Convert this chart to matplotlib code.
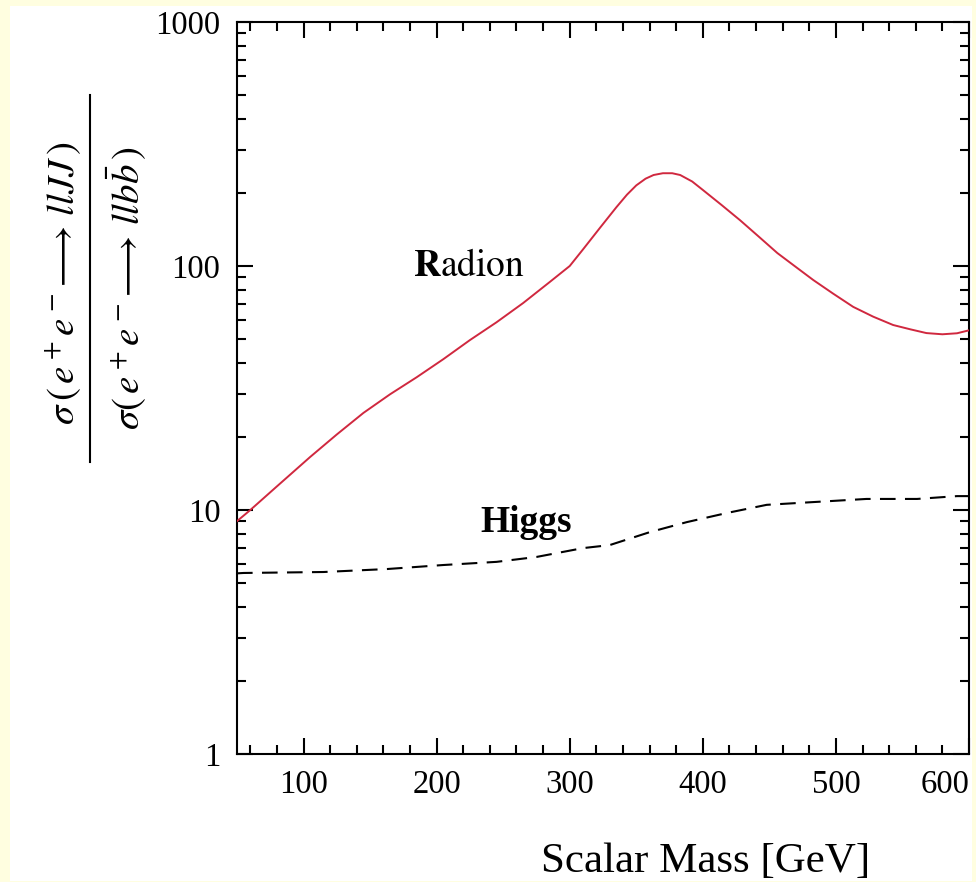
import matplotlib
matplotlib.use("Agg")
import matplotlib.pyplot as plt
from matplotlib.ticker import MultipleLocator, LogLocator, NullFormatter
from matplotlib.lines import Line2D
from matplotlib.patches import Rectangle

# ---------------- data ----------------
radion_mass = [50, 60, 80, 105, 125, 145, 165, 185, 205, 225, 245, 265, 285, 300,
               310, 323, 335, 343, 350, 357, 363, 370, 377, 383, 392, 400, 414, 428,
               442, 456, 470, 483, 498, 513, 528, 543, 556, 568, 580, 591, 600]
radion_ratio = [9.0, 10.0, 12.5, 16.5, 20.4, 25.0, 29.8, 35.0, 41.5, 49.7, 58.8,
                70.5, 86.0, 100.0, 117.0, 144.0, 174.0, 196.0, 214.0, 228.0, 236.0,
                240.0, 240.0, 236.0, 222.0, 205.0, 178.0, 154.0, 132.0, 113.0, 99.0,
                87.6, 77.0, 68.0, 62.0, 57.3, 55.0, 53.1, 52.5, 53.0, 54.5]

higgs_mass = [50, 55, 115, 163, 205, 245, 275, 310, 330, 360, 388, 418, 448, 486,
              523, 561, 591, 600]
higgs_ratio = [5.5, 5.52, 5.57, 5.73, 5.95, 6.13, 6.42, 6.98, 7.18, 8.11, 8.92,
               9.72, 10.5, 10.8, 11.1, 11.1, 11.4, 11.4]

x_ticks = [100, 200, 300, 400, 500, 600]
x_ticklabels = ["100", "200", "300", "400", "500", "600"]
y_ticks = [1, 10, 100, 1000]
y_ticklabels = ["1", "10", "100", "1000"]

# ---------------- style ----------------
plt.rcParams["font.family"] = ["Liberation Serif", "DejaVu Serif"]
plt.rcParams["mathtext.fontset"] = "stix"

W, H = 976, 882
fig = plt.figure(figsize=(W / 100, H / 100), dpi=100, facecolor="#fffee0")
fig.patches.append(Rectangle((10 / W, 1 - 881 / H), (972 - 10) / W, (881 - 6) / H,
                             transform=fig.transFigure, facecolor="white",
                             edgecolor="none", zorder=-10))

ax = fig.add_axes([237 / W, 1 - 754 / H, (969 - 237) / W, (754 - 22) / H])
ax.set_facecolor("white")

ax.plot(radion_mass, radion_ratio, color="#d0283f", lw=1.4, zorder=3)
ax.plot(higgs_mass, higgs_ratio, color="black", lw=1.5, dashes=(7.5, 4.5), zorder=3)

ax.set_yscale("log")
ax.set_xlim(50, 600)
ax.set_ylim(1, 1000)

ax.set_xticks(x_ticks)
ax.set_xticklabels(x_ticklabels)
ax.xaxis.set_minor_locator(MultipleLocator(20))
ax.set_yticks(y_ticks)
ax.set_yticklabels(y_ticklabels)
ax.yaxis.set_minor_locator(LogLocator(base=10, subs=range(2, 10)))
ax.yaxis.set_minor_formatter(NullFormatter())

for s in ax.spines.values():
    s.set_linewidth(1.5)

ax.tick_params(which="both", direction="in", top=True, right=True, width=1.5,
               labelsize=23.5)
ax.tick_params(which="major", length=11.5)
ax.tick_params(which="minor", length=6.5)
ax.tick_params(axis="x", pad=11)
ax.tick_params(axis="y", pad=12)

labels = ax.get_xticklabels()
labels[-1].set_horizontalalignment("right")

# annotation labels placed in figure pixel positions
fig.text(413 / W, 1 - 267 / H, r"$\mathbf{R}\mathrm{adion}$", fontsize=27,
         ha="left", va="center")
fig.text(480 / W, 1 - 523 / H, "Higgs", fontsize=27, fontweight="bold",
         ha="left", va="center")

fig.text(706 / W, 1 - 843 / H, "Scalar Mass [GeV]", fontsize=31, ha="center",
         va="top")

fig.text(63 / W, 1 - 283 / H, r"$\sigma\,(\,e^+e^-\!\longrightarrow\, llJJ\,)$",
         rotation=90, fontsize=28, ha="center", va="center")
fig.text(127 / W, 1 - 288 / H, r"$\sigma(\,e^+e^-\!\longrightarrow\, llb\bar{b}\,)$",
         rotation=90, fontsize=28, ha="center", va="center")
fig.lines.append(Line2D([90 / W, 90 / W], [1 - 95 / H, 1 - 462 / H],
                        transform=fig.transFigure, color="black", lw=1.5))

fig.savefig("out.png", dpi=100, facecolor=fig.get_facecolor())
